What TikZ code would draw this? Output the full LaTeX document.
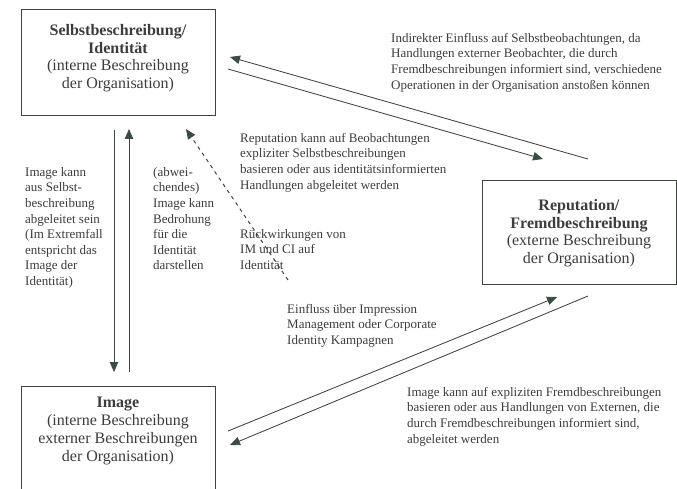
\documentclass[tikz,border=0pt]{standalone}
\usepackage{fontspec}
\setmainfont{Liberation Serif}
\usetikzlibrary{arrows.meta}
\definecolor{ink}{HTML}{404340}
\definecolor{tip}{HTML}{3A4D42}
\definecolor{txt}{HTML}{3C3C3C}
\tikzset{
  boxnode/.style={draw=ink, line width=0.9pt, minimum width=194pt, inner sep=0pt},
  boxtext/.style={text=txt, align=center, inner sep=0pt, anchor=north, font=\fontsize{16}{17.8}\selectfont},
  note/.style={text=txt, align=left, inner sep=0pt, anchor=north west, font=\fontsize{13}{15.6}\selectfont},
  conn/.style={draw=ink, line width=0.85pt},
  arr/.style={conn, -{Triangle[length=10pt,width=8.5pt,color=tip]}},
  dasharr/.style={arr, line width=1pt, dash pattern=on 3.5pt off 4pt}
}
\begin{document}
\begin{tikzpicture}[x=1pt,y=-1pt]
\useasboundingbox (0,0) rectangle (677,489);
\clip (0,0) rectangle (677,489);
% boxes
\node[boxnode, minimum height=106pt] (selbst) at (118,62) {};
\node[boxnode, minimum height=104pt] (rep) at (579,232) {};
\node[boxnode, minimum height=114pt] (img) at (118,443) {};
% box texts
\node[boxtext] (selbstT) at (118,24) {\textbf{Selbstbeschreibung/}\\ \textbf{Identität}\\ (interne Beschreibung\\ der Organisation)};
\node[boxtext] (repT) at (579,199) {\textbf{Reputation/}\\ \textbf{Fremdbeschreibung}\\ (externe Beschreibung\\ der Organisation)};
\node[boxtext] (imgT) at (118,397) {\textbf{Image}\\ (interne Beschreibung\\ externer Beschreibungen\\ der Organisation)};
% connector end points
\coordinate (a1s) at (588,159); \coordinate (a1e) at (230,57);
\coordinate (a2s) at (228,69);  \coordinate (a2e) at (543,159);
\coordinate (a3s) at (228,431); \coordinate (a3e) at (557,297);
\coordinate (a4s) at (588,296); \coordinate (a4e) at (230,445);
\coordinate (v1s) at (114,130); \coordinate (v1e) at (114,372);
\coordinate (v2s) at (129,372); \coordinate (v2e) at (129,129);
\coordinate (ds) at (288,280);  \coordinate (de) at (186,129);
% connectors
\draw[arr] (a1s) -- (a1e);
\draw[arr] (a2s) -- (a2e);
\draw[arr] (a3s) -- (a3e);
\draw[arr] (a4s) -- (a4e);
\draw[arr] (v1s) -- (v1e);
\draw[arr] (v2s) -- (v2e);
\draw[dasharr] (ds) -- (de);
% annotations
\node[note] (n1) at (391,33) {Indirekter Einfluss auf Selbstbeobachtungen, da\\ Handlungen externer Beobachter, die durch\\ Fremdbeschreibungen informiert sind, verschiedene\\ Operationen in der Organisation anstoßen können};
\node[note] (n2) at (240,133) {Reputation kann auf Beobachtungen\\ expliziter Selbstbeschreibungen\\ basieren oder aus identitätsinformierten\\ Handlungen abgeleitet werden};
\node[note] (n3) at (25,167) {Image kann\\ aus Selbst-\\ beschreibung\\ abgeleitet sein\\ (Im Extremfall\\ entspricht das\\ Image der\\ Identität)};
\node[note] (n4) at (153,167) {(abwei-\\ chendes)\\ Image kann\\ Bedrohung\\ für die\\ Identität\\ darstellen};
\node[note] (n5) at (240,229) {Rückwirkungen von\\ IM und CI auf\\ Identität};
\node[note] (n6) at (287,304) {Einfluss über Impression\\ Management oder Corporate\\ Identity Kampagnen};
\node[note] (n7) at (407,387) {Image kann auf expliziten Fremdbeschreibungen\\ basieren oder aus Handlungen von Externen, die\\ durch Fremdbeschreibungen informiert sind,\\ abgeleitet werden};
\end{tikzpicture}
\end{document}
